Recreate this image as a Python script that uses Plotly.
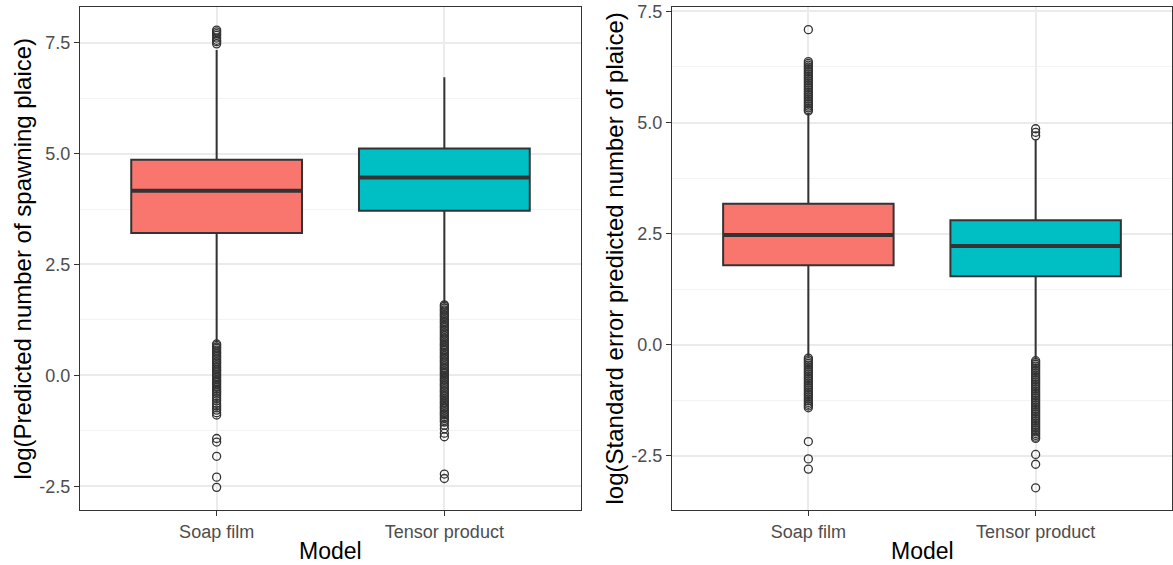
import plotly.graph_objects as go

# Model categories and box colours
models = ["Soap film", "Tensor product"]
box_colors = ["#F8766D", "#00BFC4"]

# Panel 1: log(predicted number of spawning plaice)
pred_q1 = [3.21, 3.71]
pred_median = [4.16, 4.46]
pred_q3 = [4.86, 5.11]
pred_lower = [0.74, 1.62]
pred_upper = [7.33, 6.72]
pred_out_soap = [7.47, 7.52, 7.55, 7.60, 7.66, 7.70, 7.74, 7.78,
                 0.71, 0.68, 0.64, 0.61, 0.57, 0.53, 0.50, 0.46, 0.43, 0.39,
                 0.35, 0.31, 0.28, 0.24, 0.20, 0.17, 0.13, 0.10, 0.06, 0.02,
                 -0.02, -0.05, -0.09, -0.13, -0.16, -0.20, -0.24, -0.27, -0.31,
                 -0.35, -0.38, -0.42, -0.47, -0.52, -0.57, -0.63, -0.68, -0.73,
                 -0.78, -0.84, -0.89, -1.42, -1.50, -1.82, -2.29, -2.52]
pred_out_tensor = [1.59, 1.56, 1.52, 1.48, 1.45, 1.41, 1.37, 1.34, 1.30, 1.26,
                   1.22, 1.19, 1.15, 1.11, 1.08, 1.04, 1.00, 0.96, 0.93, 0.89,
                   0.85, 0.82, 0.78, 0.74, 0.70, 0.67, 0.63, 0.59, 0.56, 0.52,
                   0.48, 0.44, 0.41, 0.37, 0.33, 0.30, 0.26, 0.22, 0.18, 0.15,
                   0.11, 0.07, 0.04, 0.00, -0.04, -0.08, -0.11, -0.15, -0.19,
                   -0.22, -0.26, -0.30, -0.34, -0.37, -0.41, -0.45, -0.48, -0.52,
                   -0.56, -0.60, -0.63, -0.67, -0.71, -0.74, -0.78, -0.82, -0.86,
                   -0.89, -0.93, -0.97, -1.01, -1.05, -1.12, -1.20, -1.30, -1.38,
                   -2.22, -2.32]

# Panel 2: log(standard error of predicted number of plaice)
se_q1 = [1.79, 1.54]
se_median = [2.47, 2.22]
se_q3 = [3.17, 2.80]
se_lower = [-0.27, -0.33]
se_upper = [5.22, 4.62]
se_out_soap = [7.09,
               6.37, 6.33, 6.29, 6.25, 6.21, 6.17, 6.13, 6.09, 6.05, 6.01, 5.97,
               5.93, 5.89, 5.85, 5.81, 5.77, 5.73, 5.69, 5.65, 5.61, 5.57, 5.53,
               5.49, 5.45, 5.41, 5.37, 5.33, 5.29, 5.26,
               -0.30, -0.34, -0.38, -0.42, -0.46, -0.50, -0.54, -0.58, -0.62,
               -0.66, -0.70, -0.74, -0.78, -0.82, -0.86, -0.90, -0.94, -0.98,
               -1.02, -1.06, -1.10, -1.14, -1.18, -1.22, -1.26, -1.30, -1.34,
               -1.38, -1.42, -2.18, -2.57, -2.80]
se_out_tensor = [4.70, 4.78, 4.86,
                 -0.36, -0.40, -0.44, -0.48, -0.52, -0.56, -0.60, -0.64, -0.68,
                 -0.72, -0.76, -0.80, -0.84, -0.88, -0.92, -0.96, -1.00, -1.04,
                 -1.08, -1.12, -1.16, -1.20, -1.24, -1.28, -1.32, -1.36, -1.40,
                 -1.44, -1.48, -1.52, -1.56, -1.60, -1.64, -1.68, -1.72, -1.76,
                 -1.80, -1.84, -1.88, -1.92, -1.96, -2.00, -2.04, -2.08, -2.11,
                 -2.47, -2.69, -3.22]

# Axis ticks
y_tickvals = [-2.5, 0.0, 2.5, 5.0, 7.5]
y_ticktext = ["-2.5", "0.0", "2.5", "5.0", "7.5"]
y_minor = [-1.25, 1.25, 3.75, 6.25]

BOX_WIDTH = 0.75
INK = "#333333"
FONT = "Liberation Sans, Arial, sans-serif"

fig = go.Figure()


def add_panel(xref, yref, q1, med, q3, lo, hi, outliers):
    for i, name in enumerate(models):
        fig.add_trace(go.Box(
            x=[i], q1=[q1[i]], median=[med[i]], q3=[q3[i]],
            lowerfence=[lo[i]], upperfence=[hi[i]],
            width=BOX_WIDTH, whiskerwidth=0, boxpoints=False,
            fillcolor=box_colors[i], line=dict(color=INK, width=2),
            name=name, xaxis=xref, yaxis=yref, hoverinfo="skip",
        ))
        # thicker median bar drawn over the box
        fig.add_trace(go.Scatter(
            x=[i - BOX_WIDTH / 2, i + BOX_WIDTH / 2], y=[med[i], med[i]],
            mode="lines", line=dict(color=INK, width=4),
            xaxis=xref, yaxis=yref, hoverinfo="skip",
        ))
        fig.add_trace(go.Scatter(
            x=[i] * len(outliers[i]), y=outliers[i], mode="markers",
            marker=dict(symbol="circle-open", size=8, color=INK,
                        line=dict(color=INK, width=1.3)),
            xaxis=xref, yaxis=yref, hoverinfo="skip",
        ))


add_panel("x", "y", pred_q1, pred_median, pred_q3, pred_lower, pred_upper,
          [pred_out_soap, pred_out_tensor])
add_panel("x2", "y2", se_q1, se_median, se_q3, se_lower, se_upper,
          [se_out_soap, se_out_tensor])

ydom = [1 - 510 / 565, 1 - 7 / 565]
xdom1 = [80 / 1173, 581 / 1173]
xdom2 = [672 / 1173, 1172 / 1173]

xcommon = dict(
    range=[-0.6, 1.6], tickvals=[0, 1], ticktext=models,
    showgrid=True, gridcolor="#ebebeb", gridwidth=1.5,
    showline=True, linecolor=INK, linewidth=1.2, mirror=True,
    ticks="outside", ticklen=5, tickcolor=INK, tickwidth=1.2,
    tickfont=dict(family=FONT, size=18, color="#4d4d4d"),
    zeroline=False, automargin=False, fixedrange=True,
)
ycommon = dict(
    tickvals=y_tickvals, ticktext=y_ticktext,
    showgrid=True, gridcolor="#ebebeb", gridwidth=1.5,
    minor=dict(tickvals=y_minor, showgrid=True, gridcolor="#f3f3f3",
               gridwidth=1, ticklen=0),
    showline=True, linecolor=INK, linewidth=1.2, mirror=True,
    ticks="outside", ticklen=5, tickcolor=INK, tickwidth=1.2,
    tickfont=dict(family=FONT, size=18, color="#4d4d4d"),
    zeroline=False, automargin=False, fixedrange=True,
)

fig.update_layout(
    width=1173, height=565,
    margin=dict(l=0, r=0, t=0, b=0),
    paper_bgcolor="white", plot_bgcolor="white",
    showlegend=False,
    xaxis=dict(domain=xdom1, anchor="y", **xcommon),
    yaxis=dict(domain=ydom, anchor="x", range=[-3.03, 8.30], **ycommon),
    xaxis2=dict(domain=xdom2, anchor="y2", **xcommon),
    yaxis2=dict(domain=ydom, anchor="x2", range=[-3.72, 7.60], **ycommon),
    font=dict(family=FONT),
)

title_font = dict(family=FONT, size=24, color="black")
model_font = dict(family=FONT, size=23, color="black")
annotations = [
    dict(text="Model", x=sum(xdom1) / 2, y=1 - 551 / 565, xref="paper",
         yref="paper", showarrow=False, font=model_font,
         xanchor="center", yanchor="middle"),
    dict(text="Model", x=sum(xdom2) / 2, y=1 - 551 / 565, xref="paper",
         yref="paper", showarrow=False, font=model_font,
         xanchor="center", yanchor="middle"),
    dict(text="log(Predicted number of spawning plaice)", x=22 / 1173,
         y=sum(ydom) / 2, xref="paper", yref="paper", showarrow=False,
         textangle=-90, font=title_font, xanchor="center", yanchor="middle"),
    dict(text="log(Standard error predicted number of plaice)", x=614 / 1173,
         y=sum(ydom) / 2, xref="paper", yref="paper", showarrow=False,
         textangle=-90, font=title_font, xanchor="center", yanchor="middle"),
]
fig.update_layout(annotations=annotations)

fig.write_html("out.html")
